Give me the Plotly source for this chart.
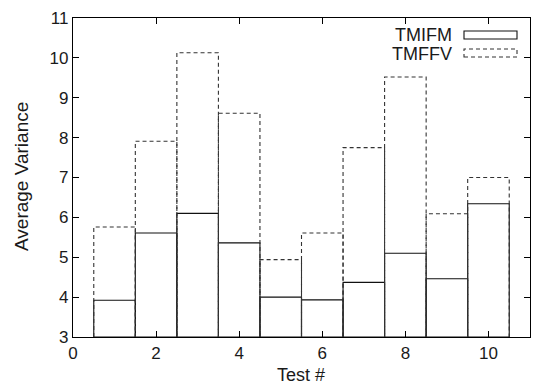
import plotly.graph_objects as go

tests = [1, 2, 3, 4, 5, 6, 7, 8, 9, 10]
tmifm = [3.92, 5.61, 6.10, 5.36, 4.00, 3.93, 4.37, 5.10, 4.46, 6.34]
tmffv = [5.76, 7.91, 10.13, 8.61, 4.94, 5.61, 7.75, 9.52, 6.09, 7.00]
x_ticks = [0, 2, 4, 6, 8, 10]
y_ticks = [3, 4, 5, 6, 7, 8, 9, 10, 11]
base = 3
bar_w = 1.0

FONT = "Liberation Sans, Arial, Helvetica, sans-serif"
TXT = "#1a1a1a"

# dashed outline for TMFFV built from the data
ox, oy = [], []
for t, v in zip(tests, tmffv):
    ox += [t - bar_w / 2, t - bar_w / 2, t + bar_w / 2, t + bar_w / 2, None]
    oy += [base, v, v, base, None]

fig = go.Figure()
fig.add_trace(go.Scatter(
    x=ox, y=oy, mode="lines", name="TMFFV",
    line=dict(color="#333333", width=1.1, dash="4px,3px"),
    showlegend=False, hoverinfo="skip"))
fig.add_trace(go.Bar(
    x=tests, y=[v - base for v in tmifm], base=base, width=bar_w, name="TMIFM",
    marker=dict(color="rgba(0,0,0,0)", line=dict(color="#111111", width=1.1)),
    showlegend=False))

# legend drawn manually (gnuplot style)
W, H = 537, 386
L, R, T, B = 73, 7, 18, 49
pw, ph = W - L - R, H - T - B

def px(x):
    return (x - L) / pw

def py(y):
    return (H - B - y) / ph

fig.add_annotation(xref="paper", yref="paper", x=px(454), y=py(35), text="TMIFM",
                   showarrow=False, xanchor="right", yanchor="middle",
                   font=dict(family=FONT, size=18, color=TXT))
fig.add_annotation(xref="paper", yref="paper", x=px(454), y=py(54), text="TMFFV",
                   showarrow=False, xanchor="right", yanchor="middle",
                   font=dict(family=FONT, size=18, color=TXT))
fig.add_shape(type="rect", xref="paper", yref="paper", x0=px(464), x1=px(517),
              y0=py(39), y1=py(31), line=dict(color="#111", width=1.1))
fig.add_shape(type="rect", xref="paper", yref="paper", x0=px(464), x1=px(517),
              y0=py(57), y1=py(49), line=dict(color="#333", width=1.1, dash="4px,3px"))

# axis titles
fig.add_annotation(xref="paper", yref="paper", x=px(301), y=py(375), text="Test #",
                   showarrow=False, xanchor="center", yanchor="middle",
                   font=dict(family=FONT, size=18, color=TXT))
fig.add_annotation(xref="paper", yref="paper", x=px(21), y=py(177), text="Average Variance",
                   showarrow=False, xanchor="center", yanchor="middle", textangle=-90,
                   font=dict(family=FONT, size=19, color=TXT))

axis_common = dict(showgrid=False, zeroline=False, showline=True, linecolor="#000",
                   linewidth=1.3, mirror="allticks", ticks="inside", ticklen=6,
                   tickcolor="#000", tickwidth=1, automargin=False,
                   tickfont=dict(family=FONT, size=17, color=TXT))
fig.update_xaxes(range=[0, 11], tickvals=x_ticks, **axis_common)
fig.update_yaxes(range=[3, 11], tickvals=y_ticks, **axis_common)

fig.update_layout(width=W, height=H, barmode="overlay",
                  margin=dict(l=L, r=R, t=T, b=B, autoexpand=False),
                  plot_bgcolor="white", paper_bgcolor="white",
                  showlegend=False)
fig.write_html("out.html", config={"displayModeBar": False},
               post_script="document.body.style.margin='0';document.body.style.overflow='hidden';")
